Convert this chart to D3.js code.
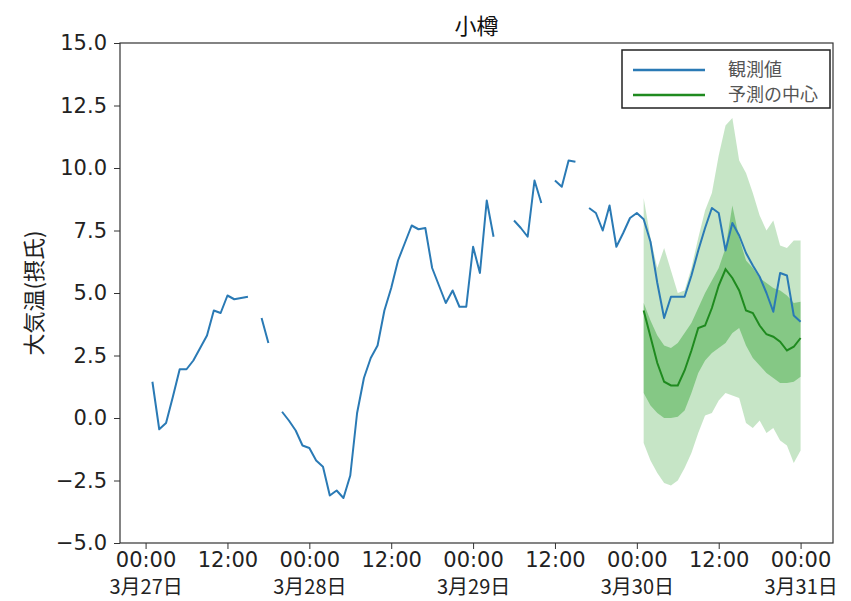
<!DOCTYPE html>
<html>
<head>
<meta charset="utf-8">
<script src="https://cdn.jsdelivr.net/npm/d3@7"></script>
<style>
  body { margin: 0; background: #fff; }
  text { font-family: "DejaVu Sans", "Noto Sans CJK JP", sans-serif; }
  .cjk { font-family: "Noto Sans CJK JP", sans-serif; }
</style>
</head>
<body>
<svg id="chart" width="851" height="601"></svg>
<script>
// 観測値 (hourly, from 3/27 01:00), null = 欠測
var obsStart = new Date(2021, 2, 27, 1);
var obsTemp = [
  1.45, -0.45, -0.2, 0.85, 1.95, 1.95, 2.3, 2.8, 3.3, 4.3, 4.2, 4.9, 4.75, 4.8, 4.85,
  null, 4.0, 3.0, null,
  0.25, -0.1, -0.5, -1.1, -1.2, -1.7, -1.95, -3.1, -2.9, -3.2, -2.3, 0.2, 1.6, 2.4, 2.9,
  4.3, 5.2, 6.3, 7.0, 7.7, 7.55, 7.6, 6.0, 5.3, 4.6, 5.1, 4.45, 4.45, 6.85, 5.8, 8.7, 7.25,
  null, null,
  7.9, 7.6, 7.25, 9.5, 8.6,
  null,
  9.5, 9.25, 10.3, 10.25,
  null,
  8.4, 8.2, 7.5, 8.5, 6.85, 7.4, 8.0, 8.2, 7.95, 7.05, 5.4, 4.0, 4.85, 4.85, 4.85, 5.7,
  6.7, 7.6, 8.4, 8.2, 6.7, 7.8, 7.3, 6.6, 6.1, 5.65, 5.0, 4.25, 5.8, 5.7, 4.1, 3.85
];

// 予測 (hourly, from 3/30 01:00)
var fcStart = new Date(2021, 2, 30, 1);
var fcCenter = [4.3, 3.25, 2.2, 1.45, 1.3, 1.3, 1.9, 2.7, 3.6, 3.7, 4.4, 5.3,
                5.95, 5.6, 5.1, 4.3, 4.2, 3.7, 3.35, 3.25, 3.05, 2.7, 2.85, 3.2];
var fcInnerHi = [4.6, 3.9, 3.3, 2.9, 2.8, 3.0, 3.4, 3.8, 4.4, 5.0, 5.5, 6.0,
                 6.8, 8.5, 7.2, 6.3, 6.0, 5.6, 5.4, 5.2, 5.1, 4.9, 4.6, 4.65];
var fcInnerLo = [1.0, 0.5, 0.2, 0.0, 0.0, 0.05, 0.3, 1.0, 1.8, 2.3, 2.6, 2.8,
                 3.0, 3.4, 3.6, 2.9, 2.4, 2.1, 1.8, 1.6, 1.4, 1.4, 1.45, 1.65];
var fcOuterHi = [8.8, 7.2, 6.0, 6.8, 5.9, 5.0, 5.1, 6.0, 7.2, 8.3, 9.0, 10.5,
                 11.7, 12.0, 10.3, 9.8, 9.0, 8.1, 7.5, 7.9, 6.9, 6.8, 7.1, 7.1];
var fcOuterLo = [-1.0, -1.7, -2.2, -2.6, -2.7, -2.5, -2.0, -1.4, -0.6, 0.1, 0.2, 0.7,
                 1.0, 0.9, 0.8, -0.2, -0.4, -0.1, -0.6, -0.4, -0.9, -1.1, -1.8, -1.3];

var yTicks = [-5, -2.5, 0, 2.5, 5, 7.5, 10, 12.5, 15];
var xTickTimes = ["2021-03-27 00:00", "2021-03-27 12:00", "2021-03-28 00:00", "2021-03-28 12:00",
                  "2021-03-29 00:00", "2021-03-29 12:00", "2021-03-30 00:00", "2021-03-30 12:00",
                  "2021-03-31 00:00"];
var xTickLabels = ["00:00", "12:00", "00:00", "12:00", "00:00", "12:00", "00:00", "12:00", "00:00"];
var xDateLabels = ["3月27日", "", "3月28日", "", "3月29日", "", "3月30日", "", "3月31日"];

var seriesNames = ["観測値", "予測の中心"];
var chartTitle = "小樽";
var yLabel = "大気温(摂氏)";

var svg = d3.select("#chart");
var margin = {left: 120, right: 18, top: 43, bottom: 58};
var W = 851, H = 601;

var parseT = d3.timeParse("%Y-%m-%d %H:%M");

var obs = obsTemp.map(function(v, i) { return {t: d3.timeHour.offset(obsStart, i), v: v}; });
var fc = fcCenter.map(function(v, i) {
  return {
    t: d3.timeHour.offset(fcStart, i), c: v,
    ih: fcInnerHi[i], il: fcInnerLo[i], oh: fcOuterHi[i], ol: fcOuterLo[i]
  };
});

// matplotlib-like 5% padding on x
var t0 = obs[0].t, t1 = obs[obs.length - 1].t;
var pad = (t1 - t0) * 0.05;
var x = d3.scaleTime()
  .domain([new Date(+t0 - pad), new Date(+t1 + pad)])
  .range([margin.left, W - margin.right]);
var y = d3.scaleLinear().domain([-5, 15]).range([H - margin.bottom, margin.top]);

var green = "#2ca02c";

// outer band
svg.append("path")
  .datum(fc)
  .attr("fill", green).attr("fill-opacity", 0.27)
  .attr("d", d3.area().x(function(d) { return x(d.t); })
    .y0(function(d) { return y(d.ol); }).y1(function(d) { return y(d.oh); }));

// inner band
svg.append("path")
  .datum(fc)
  .attr("fill", green).attr("fill-opacity", 0.42)
  .attr("d", d3.area().x(function(d) { return x(d.t); })
    .y0(function(d) { return y(d.il); }).y1(function(d) { return y(d.ih); }));

svg.append("path")
  .datum(fc)
  .attr("fill", "none").attr("stroke", "#1f8a1f").attr("stroke-width", 2)
  .attr("d", d3.line().x(function(d) { return x(d.t); }).y(function(d) { return y(d.c); }));

svg.append("path")
  .datum(obs)
  .attr("fill", "none").attr("stroke", "#2a7ab5").attr("stroke-width", 2)
  .attr("stroke-linejoin", "round")
  .attr("d", d3.line().defined(function(d) { return d.v != null; })
    .x(function(d) { return x(d.t); }).y(function(d) { return y(d.v); }));

// axes
var yAxis = svg.append("g")
  .attr("transform", "translate(" + margin.left + ",0)")
  .call(d3.axisLeft(y).tickValues(yTicks).tickFormat(d3.format(".1f")).tickSize(6).tickSizeOuter(0));
yAxis.select(".domain").remove();
yAxis.selectAll("line").attr("stroke", "#333");
yAxis.selectAll("text").attr("font-size", 21).attr("fill", "#222").attr("x", -13);

var xAxis = svg.append("g")
  .attr("transform", "translate(0," + (H - margin.bottom) + ")")
  .call(d3.axisBottom(x).tickValues(xTickTimes.map(parseT)).tickSize(6).tickSizeOuter(0)
    .tickFormat(function(d, i) { return xTickLabels[i]; }));
xAxis.select(".domain").remove();
xAxis.selectAll("line").attr("stroke", "#333");
xAxis.selectAll("text").attr("font-size", 21).attr("fill", "#222").attr("dy", "0.8em").attr("y", 7);
xAxis.selectAll(".tick").append("text")
  .attr("class", "cjk")
  .attr("fill", "#222").attr("font-size", 20)
  .attr("y", 51)
  .text(function(d, i) { return xDateLabels[i]; });

// frame
svg.append("rect")
  .attr("x", margin.left).attr("y", margin.top)
  .attr("width", W - margin.left - margin.right)
  .attr("height", H - margin.top - margin.bottom)
  .attr("fill", "none").attr("stroke", "#333").attr("stroke-width", 1.2);

// title + y label
svg.append("text").attr("class", "cjk")
  .attr("x", (margin.left + W - margin.right) / 2).attr("y", 34)
  .attr("text-anchor", "middle").attr("font-size", 22).attr("fill", "#111")
  .text(chartTitle);

svg.append("text").attr("class", "cjk")
  .attr("transform", "translate(42," + ((margin.top + H - margin.bottom) / 2) + ") rotate(-90)")
  .attr("text-anchor", "middle").attr("font-size", 22).attr("fill", "#222")
  .text(yLabel);

// legend
var lg = svg.append("g").attr("transform", "translate(622,50)");
lg.append("rect").attr("width", 208).attr("height", 58)
  .attr("fill", "#fff").attr("stroke", "#222").attr("stroke-width", 1.5);
var lgColors = ["#2a7ab5", "#1f8a1f"];
seriesNames.forEach(function(name, i) {
  var yy = 20 + i * 25;
  lg.append("line").attr("x1", 11).attr("x2", 83).attr("y1", yy).attr("y2", yy)
    .attr("stroke", lgColors[i]).attr("stroke-width", 2.5);
  lg.append("text").attr("class", "cjk").attr("x", 106).attr("y", yy + 6)
    .attr("font-size", 18).attr("fill", "#555").text(name);
});
</script>
</body>
</html>
